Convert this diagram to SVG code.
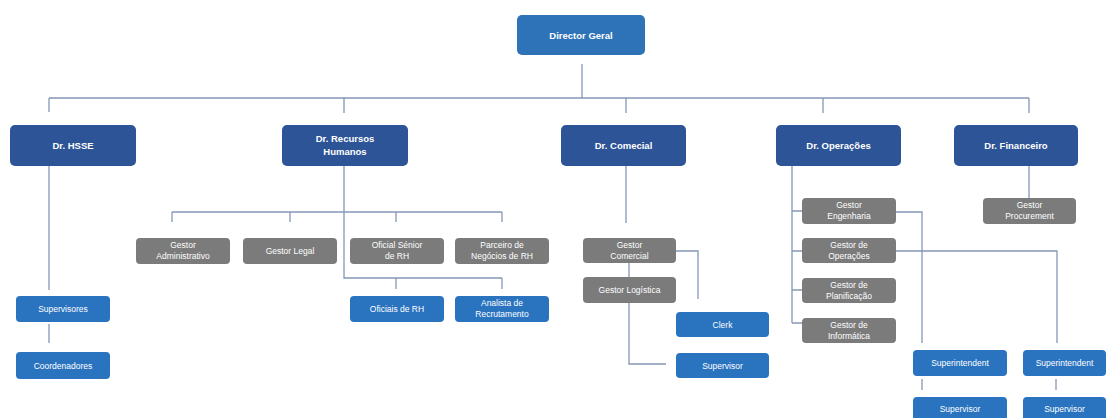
<svg xmlns="http://www.w3.org/2000/svg" width="1108" height="418" viewBox="0 0 1108 418">
<style>
.top{fill:#2E72B8}
.dr{fill:#2C5496}
.g{fill:#7B7B7B}
.b{fill:#2A73BE}
text{font-family:"Liberation Sans",Arial,sans-serif;fill:#fff;text-anchor:middle;font-size:8.5px}
.bt{font-weight:bold;font-size:9.5px}
.ln{stroke:#8597B6;stroke-width:1.3;fill:none}
</style>
<rect width="1108" height="418" fill="#fff"/>
<g id="connectors" class="ln">
<path d="M582,64V98M49,98H1029M49,98V112M344,98V113M626,98V113M823,98V113M1029,98V113"/>
<path d="M49,166V290M49,324V343"/>
<path d="M344,166V278H502M396,278V289M502,278V289"/>
<path d="M172,212H502M172,212V222M290,212V222M396,212V222M502,212V222"/>
<path d="M626,166V223M676,251H698V299M629,263V364H666"/>
<path d="M792,166V323M792,211H802M792,251H802M792,290H802M792,323H802"/>
<path d="M896,212H922V343M896,251H1057V343M922,379V390M1056,379V390"/>
<path d="M1029,166V198"/>
</g>
<g id="n-director"><rect class="top" x="517" y="15" width="128" height="40" rx="5"/><text class="bt" x="581" y="38.5">Director Geral</text></g>
<g id="n-hsse"><rect class="dr" x="10" y="125" width="126" height="41" rx="5"/><text class="bt" x="73" y="148.5">Dr. HSSE</text></g>
<g id="n-rh"><rect class="dr" x="282" y="125" width="126" height="41" rx="5"/><text class="bt" x="345" y="142">Dr. Recursos</text><text class="bt" x="345" y="155">Humanos</text></g>
<g id="n-comecial"><rect class="dr" x="561" y="125" width="125" height="41" rx="5"/><text class="bt" x="623.5" y="148.5">Dr. Comecial</text></g>
<g id="n-operacoes"><rect class="dr" x="776" y="125" width="125" height="41" rx="5"/><text class="bt" x="838.5" y="148.5">Dr. Operações</text></g>
<g id="n-financeiro"><rect class="dr" x="954" y="125" width="124" height="41" rx="5"/><text class="bt" x="1016" y="148.5">Dr. Financeiro</text></g>
<g id="n-supervisores"><rect class="b" x="16" y="296" width="94" height="26" rx="4"/><text x="63" y="312">Supervisores</text></g>
<g id="n-coordenadores"><rect class="b" x="16" y="352" width="94" height="27" rx="4"/><text x="63" y="368.5">Coordenadores</text></g>
<g id="n-gadm"><rect class="g" x="136" y="238" width="94" height="26" rx="4"/><text x="183" y="248">Gestor</text><text x="183" y="259">Administrativo</text></g>
<g id="n-glegal"><rect class="g" x="243" y="238" width="94" height="26" rx="4"/><text x="290" y="254">Gestor Legal</text></g>
<g id="n-oficialsr"><rect class="g" x="350" y="238" width="94" height="26" rx="4"/><text x="397" y="248">Oficial Sénior</text><text x="397" y="259">de RH</text></g>
<g id="n-parceiro"><rect class="g" x="455" y="238" width="94" height="26" rx="4"/><text x="502" y="248">Parceiro de</text><text x="502" y="259">Negócios de RH</text></g>
<g id="n-oficiais"><rect class="b" x="350" y="296" width="94" height="26" rx="4"/><text x="397" y="312">Oficiais de RH</text></g>
<g id="n-analista"><rect class="b" x="455" y="296" width="94" height="26" rx="4"/><text x="502" y="306">Analista de</text><text x="502" y="317">Recrutamento</text></g>
<g id="n-gcomercial"><rect class="g" x="583" y="238" width="93" height="25" rx="4"/><text x="629.5" y="248">Gestor</text><text x="629.5" y="259">Comercial</text></g>
<g id="n-glogistica"><rect class="g" x="583" y="277" width="93" height="26" rx="4"/><text x="629.5" y="293">Gestor Logística</text></g>
<g id="n-clerk"><rect class="b" x="676" y="312" width="93" height="25" rx="4"/><text x="722.5" y="327.5">Clerk</text></g>
<g id="n-supervisor1"><rect class="b" x="676" y="353" width="93" height="25" rx="4"/><text x="722.5" y="368.5">Supervisor</text></g>
<g id="n-geng"><rect class="g" x="802" y="198" width="94" height="26" rx="4"/><text x="849" y="208">Gestor</text><text x="849" y="219">Engenharia</text></g>
<g id="n-gop"><rect class="g" x="802" y="238" width="94" height="25" rx="4"/><text x="849" y="248">Gestor de</text><text x="849" y="259">Operações</text></g>
<g id="n-gplan"><rect class="g" x="802" y="278" width="94" height="25" rx="4"/><text x="849" y="288">Gestor de</text><text x="849" y="299">Planificação</text></g>
<g id="n-ginf"><rect class="g" x="802" y="318" width="94" height="25" rx="4"/><text x="849" y="328">Gestor de</text><text x="849" y="339">Informática</text></g>
<g id="n-gproc"><rect class="g" x="983" y="198" width="93" height="26" rx="4"/><text x="1029.5" y="208">Gestor</text><text x="1029.5" y="219">Procurement</text></g>
<g id="n-super1"><rect class="b" x="913" y="350" width="94" height="26" rx="4"/><text x="960" y="366">Superintendent</text></g>
<g id="n-super2"><rect class="b" x="1023" y="350" width="83" height="26" rx="4"/><text x="1064.5" y="366">Superintendent</text></g>
<g id="n-supervisor2"><rect class="b" x="913" y="397" width="94" height="26" rx="4"/><text x="960" y="412">Supervisor</text></g>
<g id="n-supervisor3"><rect class="b" x="1023" y="397" width="83" height="26" rx="4"/><text x="1064.5" y="412">Supervisor</text></g>
</svg>
